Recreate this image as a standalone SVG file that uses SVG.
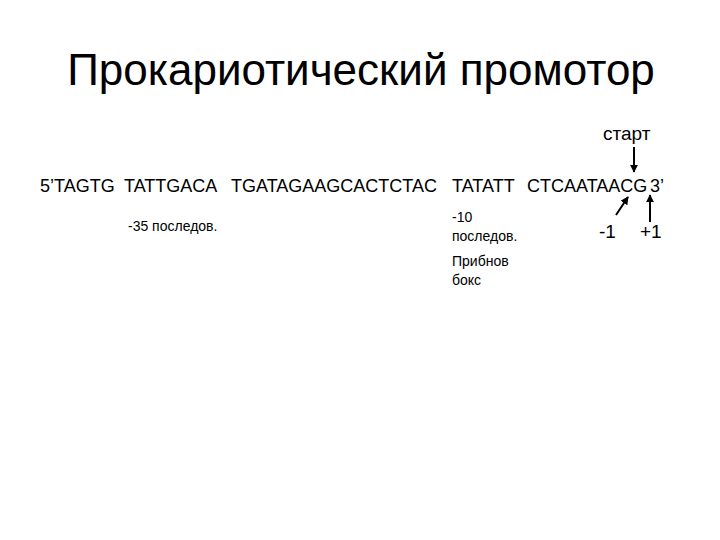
<svg xmlns="http://www.w3.org/2000/svg" width="720" height="540" viewBox="0 0 720 540">
<defs>
<style>
text{font-family:"Liberation Sans",Arial,sans-serif;fill:#000}
.t{font-size:44px}
.s{font-size:18px}
.n{font-size:19px}
.m{font-size:14px}
.c{stroke:#000;stroke-width:2;fill:none}
</style>
<marker id="ah" viewBox="0 0 10 10" refX="9" refY="5" markerWidth="4" markerHeight="4" orient="auto"><path d="M0,0L10,5L0,10z" fill="#000"/></marker>
</defs>
<rect width="720" height="540" fill="#fff"/>
<g id="title"><text class="t" x="361" y="85" text-anchor="middle">Прокариотический промотор</text></g>
<g id="sequence"><text class="s" x="40" y="192">5’TAGTG</text><text class="s" x="124" y="192">TATTGACA</text><text class="s" x="231" y="192">TGATAGAAGCACTCTAC</text><text class="s" x="452" y="192">TATATT</text><text class="s" x="527" y="192">CTCAATAACG</text><text class="s" x="650" y="192">3’</text></g>
<g id="start"><text class="n" x="603" y="140">старт</text></g>
<g id="minus35"><text class="m" x="128" y="231">-35 последов.</text></g>
<g id="minus10"><text class="m" x="452" y="222">-10</text><text class="m" x="452" y="241">последов.</text><text class="m" x="452" y="266">Прибнов</text><text class="m" x="452" y="285">бокс</text></g>
<g id="m1"><text class="n" x="599" y="238">-1</text></g>
<g id="p1"><text class="n" x="640" y="238">+1</text></g>
<g id="connectors">
<line class="c" x1="634" y1="147" x2="634" y2="172" marker-end="url(#ah)"/>
<line class="c" x1="616" y1="215" x2="628" y2="197" marker-end="url(#ah)"/>
<line class="c" x1="650" y1="222" x2="650" y2="195" marker-end="url(#ah)"/>
</g>
</svg>
